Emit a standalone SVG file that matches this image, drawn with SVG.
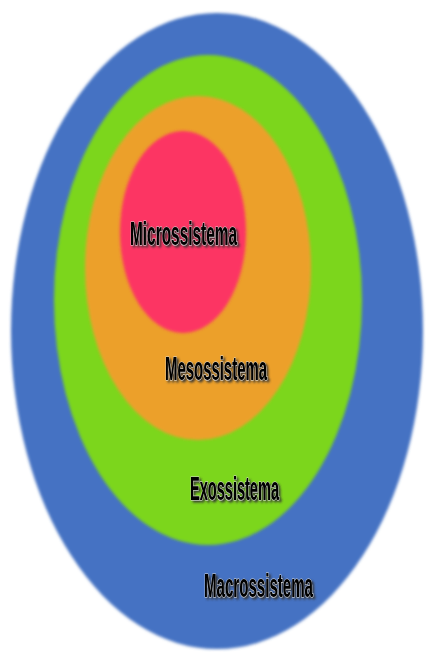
<svg xmlns="http://www.w3.org/2000/svg" width="427" height="652" viewBox="0 0 427 652">
  <defs>
    <filter id="soft" x="-5%" y="-5%" width="110%" height="110%">
      <feGaussianBlur stdDeviation="1.4"/>
    </filter>
    <filter id="shadow" x="-10%" y="-30%" width="120%" height="170%">
      <feGaussianBlur in="SourceAlpha" stdDeviation="0.9" result="b"/>
      <feOffset in="b" dx="2" dy="2" result="o"/>
      <feFlood flood-color="#333333" flood-opacity="0.9"/>
      <feComposite in2="o" operator="in" result="s"/>
      <feMerge>
        <feMergeNode in="s"/>
        <feMergeNode in="SourceGraphic"/>
      </feMerge>
    </filter>
  </defs>
  <style>
    .lbl { font-family: "Liberation Sans", Arial, sans-serif; font-weight: bold; font-size: 33px; fill: #000; stroke: #d8d8d8; stroke-width: 1.2; paint-order: stroke; filter: url(#shadow); }
  </style>
  <rect width="427" height="652" fill="#ffffff"/>

  <g id="macrossistema">
    <ellipse cx="217" cy="331" rx="206" ry="318" fill="#4572c3" filter="url(#soft)"/>
  </g>
  <g id="exossistema">
    <ellipse cx="208" cy="300" rx="154" ry="245" fill="#7cd61b" filter="url(#soft)"/>
  </g>
  <g id="mesossistema">
    <ellipse cx="198" cy="268" rx="113" ry="172" fill="#eca02b" filter="url(#soft)"/>
  </g>
  <g id="microssistema">
    <ellipse cx="183" cy="232" rx="63" ry="101" fill="#fc3563" filter="url(#soft)"/>
  </g>

  <g id="labels">
    <text id="label-micro" class="lbl" x="130" y="245" textLength="107" lengthAdjust="spacingAndGlyphs">Microssistema</text>
    <text id="label-meso" class="lbl" x="165" y="380" textLength="102" lengthAdjust="spacingAndGlyphs">Mesossistema</text>
    <text id="label-exo" class="lbl" x="190" y="500" textLength="89" lengthAdjust="spacingAndGlyphs">Exossistema</text>
    <text id="label-macro" class="lbl" x="204" y="597" textLength="109" lengthAdjust="spacingAndGlyphs">Macrossistema</text>
  </g>
</svg>
